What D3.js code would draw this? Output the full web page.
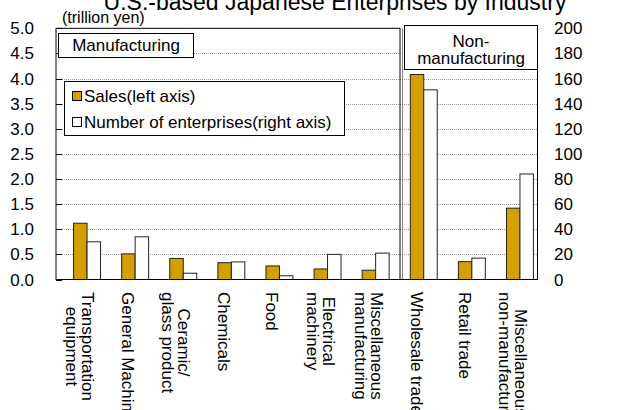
<!DOCTYPE html>
<html><head><meta charset="utf-8">
<script src="https://cdn.jsdelivr.net/npm/d3@7"></script>
<style>body{margin:0;background:#fff}svg{display:block;font-family:"Liberation Sans",Arial,sans-serif}</style>
</head><body>
<svg id="c" width="620" height="410"></svg>
<script>
const categories = ["Transportation\nequipment","General Machinery","Ceramic/\nglass product","Chemicals","Food","Electrical\nmachinery","Miscellaneous\nmanufacturing","Wholesale trade","Retail trade","Miscellaneous\nnon-manufacturing"];
const sales = [1.12, 0.51, 0.42, 0.335, 0.27, 0.21, 0.185, 4.08, 0.355, 1.42];
const enterprises = [30, 34, 5, 14, 3, 20, 21, 151, 17, 84];
const leftTicks = [0,0.5,1,1.5,2,2.5,3,3.5,4,4.5,5];
const rightTicks = [0,20,40,60,80,100,120,140,160,180,200];
const seriesNames = ["Sales(left axis)","Number of enterprises(right axis)"];
const groupNames = ["Manufacturing","Non-\nmanufacturing"];
const title = "U.S.-based Japanese Enterprises by Industry";
const unitLabel = "(trillion yen)";

const svg = d3.select("#c");
const L = 56, R = 537, T = 28.3, B = 279.5, DIV = 400;
const GOLD = "#D4A000";
const x = d3.scaleBand().domain(categories).range([63, 544]);
const yL = d3.scaleLinear().domain([0,5]).range([B, T]);
const yR = d3.scaleLinear().domain([0,200]).range([B, T]);
const bw = x.step()*0.28;
const cx = d => x(d) + x.bandwidth()/2;

// title
svg.append("text").attr("x",335).attr("y",10).attr("text-anchor","middle")
  .attr("font-size",23).text(title);
svg.append("text").attr("x",62).attr("y",23).attr("font-size",16).text(unitLabel);

// gridlines
svg.append("g").selectAll("line").data(leftTicks.filter(v=>v>0&&v<5)).join("line")
  .attr("x1",L).attr("x2",R).attr("y1",d=>Math.round(yL(d))+0.5).attr("y2",d=>Math.round(yL(d))+0.5)
  .attr("stroke","#999").attr("stroke-dasharray","1,1");

// bars
const gb = svg.append("g");
gb.selectAll("rect.s").data(categories).join("rect").attr("class","s")
  .attr("x",d=>cx(d)-bw).attr("width",bw)
  .attr("y",(d,i)=>yL(sales[i])).attr("height",(d,i)=>B-yL(sales[i]))
  .attr("fill",GOLD).attr("stroke","#222").attr("stroke-width",1);
gb.selectAll("rect.e").data(categories).join("rect").attr("class","e")
  .attr("x",d=>cx(d)).attr("width",bw)
  .attr("y",(d,i)=>yR(enterprises[i])).attr("height",(d,i)=>B-yR(enterprises[i]))
  .attr("fill","#fff").attr("stroke","#222").attr("stroke-width",1);

// frames
svg.append("rect").attr("x",L).attr("y",T).attr("width",DIV-L).attr("height",B-T)
  .attr("fill","none").attr("stroke","#000");
svg.append("line").attr("x1",DIV+2.5).attr("x2",DIV+2.5).attr("y1",T).attr("y2",B).attr("stroke","#888");
svg.append("line").attr("x1",R+0.5).attr("x2",R+0.5).attr("y1",25).attr("y2",B).attr("stroke","#000");
svg.append("line").attr("x1",L).attr("x2",R+1).attr("y1",B).attr("y2",B).attr("stroke","#000");

// left axis ticks (inward)
svg.append("g").selectAll("line").data(leftTicks).join("line")
  .attr("x1",L).attr("x2",L+6).attr("y1",d=>Math.round(yL(d))+0.5).attr("y2",d=>Math.round(yL(d))+0.5)
  .attr("stroke","#000");
svg.append("g").selectAll("text").data(leftTicks).join("text")
  .attr("x",34).attr("y",d=>yL(d)+6).attr("text-anchor","end").attr("font-size",17)
  .text(d=>d.toFixed(1));
svg.append("g").selectAll("text").data(rightTicks).join("text")
  .attr("x",554).attr("y",d=>yR(d)+6).attr("font-size",17).text(d=>d);

// group label boxes
svg.append("rect").attr("x",58.5).attr("y",33.5).attr("width",135).attr("height",24)
  .attr("fill","#fff").attr("stroke","#000");
svg.append("text").attr("x",126).attr("y",51).attr("text-anchor","middle").attr("font-size",17).text(groupNames[0]);
svg.append("rect").attr("x",404.5).attr("y",25.5).attr("width",133).attr("height",44)
  .attr("fill","#fff").attr("stroke","#000");
groupNames[1].split("\n").forEach((t,i)=>{
  svg.append("text").attr("x",471).attr("y",47+i*17).attr("text-anchor","middle").attr("font-size",17).text(t);
});

// legend
svg.append("rect").attr("x",64.5).attr("y",81.5).attr("width",280).attr("height",54)
  .attr("fill","#fff").attr("stroke","#000");
const lg = svg.append("g");
lg.selectAll("rect").data(seriesNames).join("rect")
  .attr("x",72.5).attr("y",(d,i)=>91.5+i*26).attr("width",9).attr("height",9)
  .attr("fill",(d,i)=>i===0?GOLD:"#fff").attr("stroke","#000");
lg.selectAll("text").data(seriesNames).join("text")
  .attr("x",84).attr("y",(d,i)=>102+i*26).attr("font-size",17).text(d=>d);

// category labels (rotated)
categories.forEach(c=>{
  const lines = c.split("\n");
  const g = svg.append("g").attr("transform",`translate(${cx(c)},292) rotate(90)`);
  const ts = lines.map((t,i)=>g.append("text").attr("font-size",17).attr("text-anchor","middle")
     .attr("y",13 + (i-(lines.length-1)/2)*16).text(t));
  const maxLen = d3.max(ts, t=>t.node().getComputedTextLength());
  ts.forEach(t=>t.attr("x",maxLen/2));
});
</script>
</body></html>
